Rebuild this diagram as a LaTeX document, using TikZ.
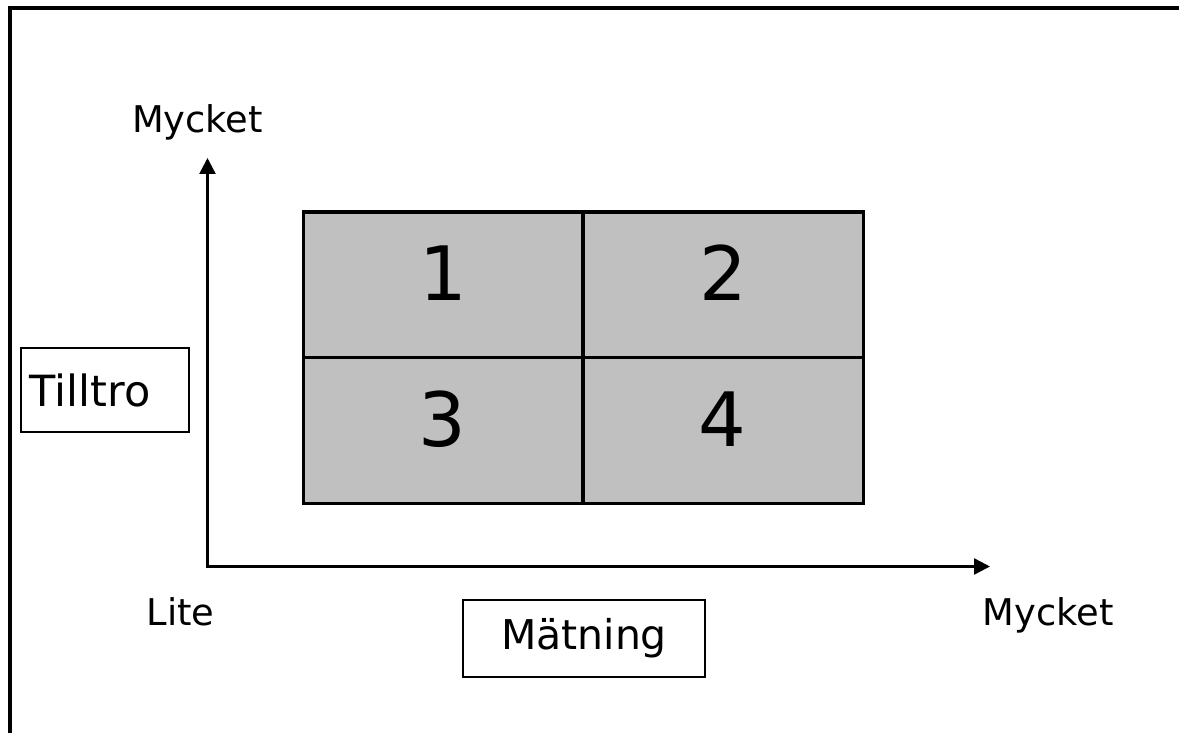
\documentclass[tikz,border=0pt]{standalone}
\usepackage{fontspec}
\setmainfont{DejaVu Sans}
\usetikzlibrary{arrows.meta}
\definecolor{cellgray}{HTML}{C0C0C0}
\begin{document}
\begin{tikzpicture}[x=0.5pt,y=-0.5pt,
  frame/.style={line width=2pt},
  axis/.style={line width=1.25pt,-{Triangle[width=8pt,length=8pt]}},
  gridline/.style={line width=1.6pt},
  lbl/.style={font=\fontsize{18.4}{22}\selectfont, anchor=base, inner sep=0pt},
  boxlbl/.style={draw,line width=1pt,font=\fontsize{20.5}{24}\selectfont},
  digit/.style={font=\fontsize{37.5}{44}\selectfont, anchor=base, inner sep=0pt}]
\useasboundingbox (0,0) rectangle (1179,733);
% frame
\draw[frame] (10,740) -- (10,8) -- (1185,8);
% grid
\draw[gridline, fill=cellgray] (303.5,212) rectangle (863.5,503.5);
\draw[gridline] (583,212) -- (583,503.5);
\draw[gridline] (303.5,357.5) -- (863.5,357.5);
\node[digit] (d1) at (443.5,300) {1};
\node[digit] (d2) at (723.5,300) {2};
\node[digit] (d3) at (442.5,446) {3};
\node[digit] (d4) at (722.5,446) {4};
% axes
\coordinate (O) at (207.5,566.5);
\coordinate (ytip) at (207.5,158);
\coordinate (xtip) at (990,566.5);
\draw[axis] (207.5,568) -- (ytip);
\draw[axis] (206,566.5) -- (xtip);
% labels
\node[lbl] (ytop) at (197.5,133) {Mycket};
\node[lbl] (lite) at (180.5,625) {Lite};
\node[lbl] (xright) at (1048,625) {Mycket};
\node[boxlbl, font=\fontsize{21.5}{25}\selectfont, text width=75pt, align=left, inner xsep=4.5pt, minimum height=42pt] (tilltro) at (105,390) {Tilltro};
\node[boxlbl, minimum width=121pt, minimum height=38.5pt] (matning) at (584,638.5) {Mätning};
\end{tikzpicture}
\end{document}
